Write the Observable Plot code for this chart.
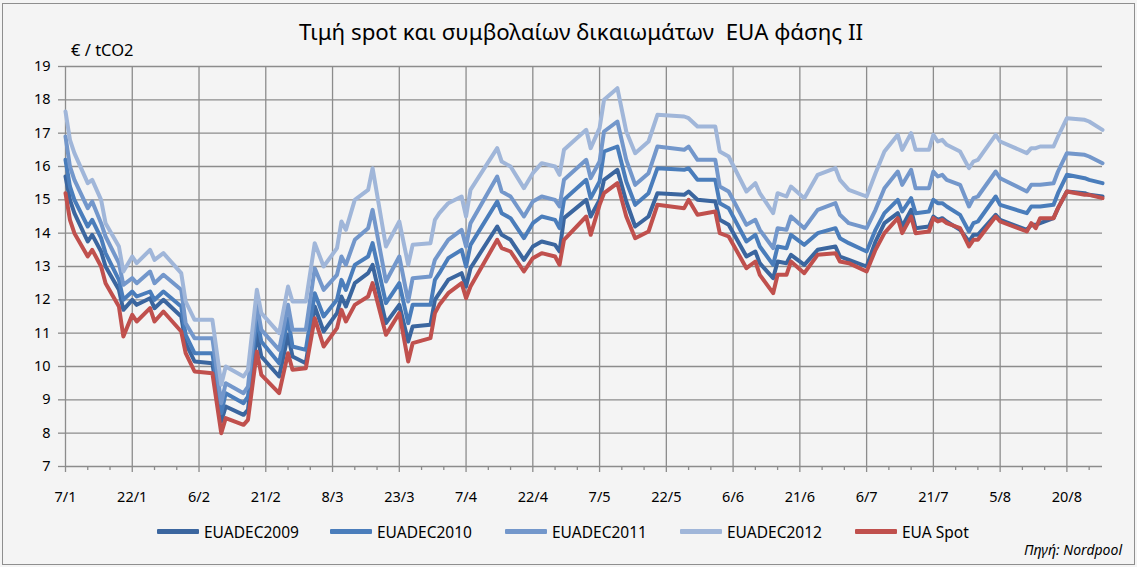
<!DOCTYPE html>
<html><head><meta charset="utf-8">
<script src="https://cdn.jsdelivr.net/npm/d3@7"></script>
<script src="https://cdn.jsdelivr.net/npm/@observablehq/plot@0.6"></script>
<style>
body{margin:0;background:#ffffff;}
#wrap{position:relative;width:1137px;height:567px;background:#f4f4f4;font-family:"Noto Sans",sans-serif;overflow:hidden;}
#chart{position:absolute;left:0;top:0;}
#frame{position:absolute;left:2px;top:3px;width:1131px;height:560px;border:1px solid #8e8e8e;pointer-events:none;}
.t{position:absolute;white-space:pre;color:#000;line-height:1;}
#title{font-size:22.3px;top:21px;left:581px;transform:translateX(-50%);}
#ylab{font-size:16.5px;top:42px;left:71px;}
#caption{font-size:14px;font-style:italic;top:543px;right:15px;}
.lg{position:absolute;top:524px;height:15px;display:flex;align-items:center;font-size:15.5px;white-space:nowrap;}
.sw{width:42px;height:5px;margin-right:5px;border-radius:1px;}
</style></head><body>
<div id="wrap">
<div id="chart"></div>
<div class="t" id="title">Τιμή spot και συμβολαίων δικαιωμάτων  EUA φάσης II</div>
<div class="t" id="ylab">€ / tCO2</div>
<div id="legend"></div>
<div class="t" id="caption">Πηγή: Nordpool</div>
<div id="frame"></div>
</div>
<script>
const dates = [
"2009-01-07","2009-01-08","2009-01-09","2009-01-12","2009-01-13","2009-01-15","2009-01-16","2009-01-19","2009-01-20","2009-01-22","2009-01-23","2009-01-26","2009-01-27","2009-01-29",
"2009-02-02","2009-02-03","2009-02-05","2009-02-09","2009-02-11","2009-02-12","2009-02-16","2009-02-17","2009-02-19","2009-02-20","2009-02-24","2009-02-26","2009-02-27",
"2009-03-02","2009-03-04","2009-03-06","2009-03-09","2009-03-10","2009-03-11","2009-03-13","2009-03-16","2009-03-17","2009-03-20","2009-03-23","2009-03-25","2009-03-26","2009-03-30","2009-03-31",
"2009-04-01","2009-04-03","2009-04-06","2009-04-07","2009-04-08","2009-04-14","2009-04-15","2009-04-17","2009-04-20","2009-04-22","2009-04-24","2009-04-27","2009-04-28","2009-04-29",
"2009-05-04","2009-05-05","2009-05-07","2009-05-08","2009-05-11","2009-05-13","2009-05-15","2009-05-18","2009-05-20","2009-05-26","2009-05-27","2009-05-29",
"2009-06-02","2009-06-03","2009-06-05","2009-06-09","2009-06-11","2009-06-12","2009-06-15","2009-06-16","2009-06-18","2009-06-19","2009-06-22","2009-06-25","2009-06-29","2009-06-30",
"2009-07-02","2009-07-06","2009-07-08","2009-07-10","2009-07-13","2009-07-14","2009-07-16","2009-07-17","2009-07-20","2009-07-21","2009-07-22","2009-07-23","2009-07-24","2009-07-27","2009-07-29","2009-07-30","2009-07-31",
"2009-08-04","2009-08-05","2009-08-11","2009-08-12","2009-08-13","2009-08-14","2009-08-17","2009-08-18","2009-08-20","2009-08-24","2009-08-25","2009-08-28"];

const euadec2009 = [
15.7,15.0,14.6,13.75,13.95,13.45,13.0,12.3,11.7,12.0,11.85,12.05,11.75,12.0,
11.5,10.7,10.15,10.1,8.35,8.8,8.55,8.7,11.0,10.3,9.7,10.95,10.3,
10.1,11.8,11.05,11.6,12.1,11.8,12.5,12.8,13.05,11.3,11.85,10.75,11.2,11.25,12.0,
12.2,12.6,12.8,12.4,12.95,14.2,13.95,13.8,13.2,13.6,13.75,13.65,13.45,14.45,
15.0,14.5,15.0,15.6,15.9,14.95,14.2,14.5,15.2,15.15,15.25,15.0,
14.95,14.4,14.25,13.3,13.45,13.1,12.65,13.15,13.1,13.35,13.05,13.5,13.6,13.3,
13.2,13.0,13.75,14.3,14.6,14.2,14.7,14.15,14.2,14.5,14.4,14.45,14.35,14.1,13.75,13.95,13.95,
14.55,14.4,14.1,14.25,14.25,14.3,14.45,14.75,15.25,15.2,15.15,15.1];

const euadec2010 = [
16.2,15.4,15.0,14.2,14.4,13.85,13.4,12.6,12.0,12.25,12.1,12.25,12.0,12.25,
11.8,10.95,10.4,10.4,8.6,9.2,8.9,9.1,11.45,10.75,10.1,11.45,10.6,
10.5,12.2,11.5,12.0,12.6,12.3,13.05,13.3,13.7,11.9,12.5,11.3,11.85,11.85,12.6,
12.8,13.25,13.5,13.0,13.65,14.95,14.6,14.45,13.85,14.3,14.5,14.4,14.15,15.0,
15.6,15.05,15.55,16.45,16.6,15.55,14.85,15.2,15.95,15.9,15.95,15.6,
15.6,14.9,14.75,13.75,13.95,13.6,13.05,13.6,13.55,13.95,13.65,14.0,14.15,13.85,
13.7,13.45,14.1,14.6,15.0,14.65,15.05,14.6,14.65,15.0,14.9,14.9,14.8,14.55,14.05,14.3,14.35,
15.1,14.85,14.6,14.8,14.8,14.8,14.85,15.2,15.75,15.65,15.6,15.5];

const euadec2011 = [
16.9,16.0,15.6,14.75,14.95,14.3,13.9,13.1,12.45,12.65,12.5,12.85,12.5,12.75,
12.3,11.3,10.85,10.85,8.9,9.5,9.2,9.4,11.85,11.1,10.5,11.85,11.1,
11.1,12.95,12.3,12.75,13.3,13.05,13.8,14.15,14.7,12.55,13.3,11.95,12.65,12.7,13.2,
13.4,13.8,14.1,13.6,14.3,15.7,15.25,15.1,14.5,14.95,15.1,15.0,14.8,15.6,
16.2,15.65,16.15,17.05,17.35,16.2,15.45,15.8,16.6,16.5,16.6,16.2,
16.2,15.4,15.25,14.25,14.4,14.1,13.55,14.15,14.1,14.5,14.15,14.7,14.9,14.55,
14.3,14.15,14.7,15.35,15.85,15.45,15.9,15.35,15.35,15.85,15.7,15.75,15.6,15.45,14.8,15.05,15.1,
15.85,15.65,15.25,15.45,15.45,15.45,15.5,15.85,16.4,16.35,16.3,16.1];

const euadec2012 = [
17.65,16.8,16.4,15.5,15.6,15.0,14.3,13.6,12.85,13.3,13.1,13.5,13.2,13.4,
12.8,11.95,11.4,11.4,9.45,10.0,9.7,9.9,12.3,11.6,11.0,12.4,11.95,
11.95,13.7,13.0,13.55,14.35,14.1,15.0,15.3,15.95,13.6,14.35,13.05,13.65,13.7,14.4,
14.6,14.9,15.1,14.5,15.3,16.55,16.15,16.0,15.35,15.8,16.1,16.0,15.75,16.5,
17.1,16.55,17.15,18.0,18.35,17.05,16.4,16.75,17.55,17.5,17.45,17.2,
17.2,16.45,16.3,15.25,15.5,15.2,14.6,15.2,15.1,15.4,15.05,15.75,15.95,15.6,
15.3,15.1,15.8,16.45,16.95,16.5,17.0,16.5,16.5,16.95,16.75,16.8,16.65,16.45,15.95,16.15,16.2,
16.95,16.75,16.4,16.55,16.55,16.6,16.6,16.9,17.45,17.4,17.35,17.1];

const euaSpot = [
15.2,14.4,14.0,13.3,13.5,13.0,12.5,11.8,10.9,11.55,11.35,11.75,11.35,11.65,
11.05,10.4,9.85,9.8,8.0,8.45,8.25,8.4,10.45,9.75,9.2,10.4,9.9,
9.95,11.45,10.6,11.15,11.7,11.35,11.85,12.1,12.5,10.95,11.6,10.15,10.7,10.85,11.6,
11.85,12.2,12.5,12.05,12.4,13.8,13.55,13.45,12.85,13.25,13.4,13.3,13.05,13.8,
14.5,13.95,14.85,15.2,15.5,14.5,13.85,14.05,14.85,14.75,15.0,14.55,
14.65,14.0,13.9,12.95,13.15,12.75,12.2,12.75,12.75,13.15,12.8,13.35,13.4,13.15,
13.1,12.85,13.5,14.0,14.45,14.0,14.5,14.0,14.05,14.45,14.35,14.4,14.3,14.15,13.6,13.8,13.8,
14.5,14.35,14.05,14.3,14.15,14.45,14.45,14.75,15.25,15.15,15.15,15.05];

const seriesNames = ["EUADEC2009","EUADEC2010","EUADEC2011","EUADEC2012","EUA Spot"];
const seriesColors = ["#3b669f","#4a7dbb","#7397cb","#a0b6d9","#c0504d"];
const seriesValues = [euadec2009, euadec2010, euadec2011, euadec2012, euaSpot];
const xTickDates = ["2009-01-07","2009-01-22","2009-02-06","2009-02-21","2009-03-08","2009-03-23","2009-04-07","2009-04-22","2009-05-07","2009-05-22","2009-06-06","2009-06-21","2009-07-06","2009-07-21","2009-08-05","2009-08-20"];
const yTicks = [7,8,9,10,11,12,13,14,15,16,17,18,19];

const parse = s => new Date(s + "T00:00:00Z");
const majors = xTickDates.map(parse);
const start = parse("2009-01-07"), end = parse("2009-08-28");
const minors = d3.utcDay.range(start, d3.utcDay.offset(end, 1), 1)
  .filter((d, i) => i % 5 === 0 && !majors.some(m => +m === +d));

const rows = [];
seriesNames.forEach((name, k) => {
  dates.forEach((s, i) => rows.push({date: parse(s), value: seriesValues[k][i], name}));
});

const gray = "#8c8c8c";
const fmt = d => `${d.getUTCDate()}/${d.getUTCMonth() + 1}`;

const chart = Plot.plot({
  width: 1137, height: 567,
  marginLeft: 65, marginRight: 35, marginTop: 66, marginBottom: 101,
  style: {background: "transparent", fontFamily: "'Noto Sans', sans-serif", fontSize: "14px", color: "#000"},
  x: {type: "utc", domain: [start, end]},
  y: {domain: [7, 19]},
  color: {domain: seriesNames, range: seriesColors},
  marks: [
    Plot.gridY(yTicks.slice(1), {stroke: gray, strokeOpacity: 1, strokeWidth: 1.3}),
    Plot.gridX(majors, {stroke: gray, strokeOpacity: 1, strokeWidth: 1.3}),
    Plot.ruleY([7], {stroke: gray, strokeWidth: 1.3}),
    Plot.axisY(yTicks, {tickSize: 7, tickPadding: 8, stroke: gray, strokeWidth: 1.3, label: null, fontSize: 14.5, fill: "#000"}),
    Plot.axisX(majors, {tickSize: 6, tickPadding: 19, stroke: gray, strokeWidth: 1.3, tickFormat: fmt, label: null, fontSize: 14.5, fill: "#000"}),
    Plot.axisX(minors, {tickSize: 4, stroke: gray, strokeWidth: 1.3, tickFormat: () => "", label: null}),
    Plot.line(rows, {x: "date", y: "value", z: "name", stroke: "name", strokeWidth: 4, strokeLinejoin: "round", strokeLinecap: "round"})
  ]
});
document.getElementById("chart").appendChild(chart);

const lgLeft = [157, 330, 505, 680, 855];
const legend = document.getElementById("legend");
seriesNames.forEach((n, i) => {
  const el = document.createElement("div");
  el.className = "lg";
  el.style.left = lgLeft[i] + "px";
  el.innerHTML = `<span class="sw" style="background:${seriesColors[i]}"></span><span>${n}</span>`;
  legend.appendChild(el);
});
</script>
</body></html>
